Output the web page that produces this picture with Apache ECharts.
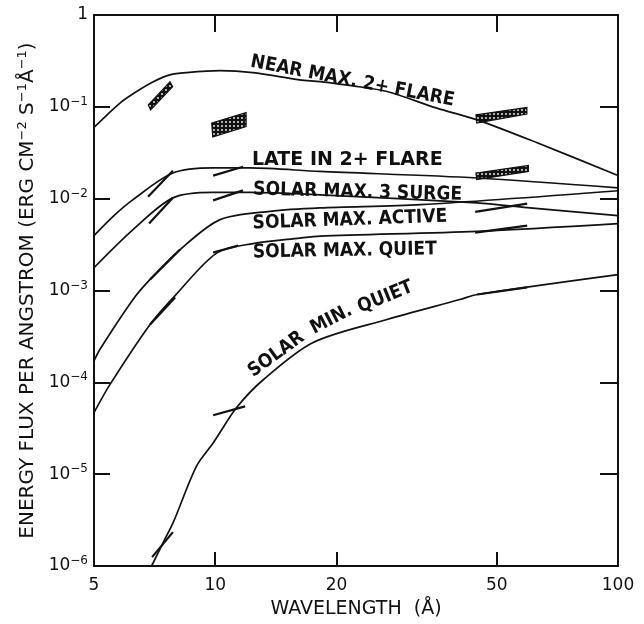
<!DOCTYPE html>
<html>
<head>
<meta charset="utf-8">
<script src="https://cdn.jsdelivr.net/npm/echarts@6/dist/echarts.min.js"></script>
<style>
  html, body { margin: 0; padding: 0; background: #fff; }
  #chart { width: 644px; height: 624px; }
</style>
</head>
<body>
<div id="chart"></div>
<script>
// wavelength ticks (Å) and flux decades
const xTickLabels = [5, 10, 20, 50, 100];
const xInnerTicks = [10, 20, 50];
const yDecades = [1e-6, 1e-5, 1e-4, 1e-3, 1e-2, 1e-1, 1];
const yInnerTicks = [1e-5, 1e-4, 1e-3, 1e-2, 1e-1];
const yExponents = ['−6', '−5', '−4', '−3', '−2', '−1', ''];

// curves: [wavelength Å, flux]
const nearMax2Flare = [[5, 0.0596], [5.8, 0.11], [6.38, 0.147], [7.02, 0.188], [7.72, 0.223], [8.49, 0.236], [10.28, 0.248], [12.4, 0.236], [16.2, 0.197], [18.2, 0.188], [22, 0.169], [26.7, 0.147], [35.5, 0.0968], [44.7, 0.0722], [63, 0.0406], [100, 0.0179]];
const lateIn2Flare = [[5, 0.00396], [5.58, 0.00642], [6.25, 0.00975], [7.85, 0.019], [9.88, 0.0216], [12.2, 0.0216], [18.2, 0.0198], [44.7, 0.0168], [100, 0.0131]];
const solarMax3Surge = [[5, 0.00177], [6.25, 0.0046], [7.85, 0.0102], [9.88, 0.0117], [12.2, 0.0117], [18.2, 0.011], [44.7, 0.00898], [59.5, 0.00798], [100, 0.00653]];
const solarMaxActive = [[5, 0.000171], [5.17, 0.000228], [6.25, 0.000798], [6.89, 0.00132], [8.18, 0.00279], [10.28, 0.00591], [13.68, 0.00728], [18.2, 0.00793], [32.3, 0.0086], [100, 0.0122]];
const solarMaxQuiet = [[5, 4.68e-5], [5.48, 9.5e-5], [6.89, 0.000427], [7.95, 0.00088], [10.1, 0.00257], [12.4, 0.00324], [16.2, 0.00372], [18.2, 0.00391], [44.7, 0.00441], [100, 0.00535]];
const solarMinQuiet = [[6.95, 1.0e-6], [7.43, 1.81e-6], [7.87, 3.0e-6], [8.99, 1.23e-5], [9.9, 2.21e-5], [11.3, 5.31e-5], [13.2, 0.000108], [17.5, 0.000272], [26.7, 0.000484], [40.5, 0.000798], [44.7, 0.000905], [100, 0.00149]];

// short measurement segments drawn beside the curves
const lateInSegments = [[[6.81, 0.0105], [7.85, 0.0201]], [[9.88, 0.0178], [11.72, 0.0223]]];
const surgeSegments = [[[6.85, 0.00535], [7.85, 0.01025]], [[9.88, 0.00958], [11.72, 0.0123]]];
const activeSegments = [[[6.89, 0.00132], [8.18, 0.00279]], [[44.2, 0.00717], [59.5, 0.00883]]];
const quietSegments = [[[6.89, 0.000427], [7.95, 0.00084]], [[9.88, 0.00259], [11.4, 0.00308]], [[44.2, 0.00427], [59.5, 0.00509]]];
const minQuietSegments = [[[6.97, 1.25e-6], [7.85, 2.34e-6]], [[9.88, 4.38e-5], [11.86, 5.48e-5]], [[44.7, 0.000905], [59.5, 0.00108]]];

// hatched boxes, 4 corners each
const hatchBoxes = [
  [[6.82, 0.105], [7.72, 0.188], [7.84, 0.166], [6.91, 0.0927]],
  [[9.8, 0.0665], [11.93, 0.0867], [11.93, 0.0611], [9.86, 0.0469]],
  [[44.4, 0.0819], [59.4, 0.0983], [59.4, 0.0833], [44.6, 0.0665]],
  [[44.4, 0.019], [59.9, 0.023], [59.9, 0.0198], [44.6, 0.0161]]
];

const ink = '#111';
const font = 'DejaVu Sans';

const pc = document.createElement('canvas');
pc.width = 4; pc.height = 4;
const pctx = pc.getContext('2d');
pctx.fillStyle = ink; pctx.fillRect(0, 0, 4, 4);
pctx.fillStyle = '#fff'; pctx.beginPath(); pctx.arc(2, 2, 0.9, 0, Math.PI * 2); pctx.fill();

const chart = echarts.init(document.getElementById('chart'));

function curve(data) {
  return {
    type: 'line', data: data, smooth: 0.3, showSymbol: false, symbol: 'none',
    clip: true, lineStyle: { color: ink, width: 1.7 }, silent: true
  };
}
function segments(list) {
  return list.map(function (seg) {
    return { type: 'line', data: seg, showSymbol: false, symbol: 'none', lineStyle: { color: ink, width: 2.2 }, silent: true };
  });
}

const series = [
  curve(nearMax2Flare), curve(lateIn2Flare), curve(solarMax3Surge),
  curve(solarMaxActive), curve(solarMaxQuiet), curve(solarMinQuiet)
].concat(segments(lateInSegments), segments(surgeSegments), segments(activeSegments),
  segments(quietSegments), segments(minQuietSegments));

series.push({
  type: 'custom',
  data: hatchBoxes.map(function (b, i) { return [b[0][0], b[0][1], i]; }),
  renderItem: function (params, api) {
    const box = hatchBoxes[api.value(2)];
    return {
      type: 'polygon',
      shape: { points: box.map(function (p) { return api.coord(p); }) },
      style: { fill: { image: pc, repeat: 'repeat' }, stroke: ink, lineWidth: 1.2 }
    };
  },
  silent: true
});

function label(text, x, y, deg, fontCss) {
  return {
    type: 'text', x: x, y: y, rotation: (deg || 0) * Math.PI / 180,
    style: { text: text, font: fontCss || 'bold 19px "DejaVu Sans Condensed"', fill: ink, textAlign: 'left', textVerticalAlign: 'bottom' }
  };
}

const option = {
  animation: false,
  grid: { left: 94, right: 26, top: 15, bottom: 57 },
  xAxis: [{
    type: 'log', logBase: 10, min: 5, max: 100, position: 'bottom',
    name: 'WAVELENGTH  (Å)', nameLocation: 'middle', nameGap: 34,
    nameTextStyle: { fontFamily: font, fontSize: 19, color: ink },
    axisLine: { lineStyle: { color: ink, width: 2 } },
    axisTick: { inside: true, length: 14, customValues: xInnerTicks, lineStyle: { color: ink, width: 2 } },
    axisLabel: { customValues: xTickLabels, margin: 11, fontFamily: font, fontSize: 17, color: ink },
    minorTick: { show: false }, splitLine: { show: false }
  }, {
    type: 'log', logBase: 10, min: 5, max: 100, position: 'top',
    axisLine: { lineStyle: { color: ink, width: 2 } },
    axisTick: { inside: true, length: 17, customValues: xInnerTicks, lineStyle: { color: ink, width: 2 } },
    axisLabel: { show: false }, splitLine: { show: false }
  }],
  yAxis: [{
    type: 'log', logBase: 10, min: 1e-6, max: 1, position: 'left',
    name: '{t|ENERGY FLUX PER ANGSTROM (ERG CM}{s|−2}{t| S}{s|−1}{t|Å}{s|−1}{t|)}',
    nameLocation: 'middle', nameGap: 43, nameRotate: 90,
    nameTextStyle: {
      color: ink,
      rich: {
        t: { fontFamily: font, fontSize: 20, color: ink },
        s: { fontFamily: font, fontSize: 13, color: ink, padding: [0, 0, 11, 0] }
      }
    },
    axisLine: { lineStyle: { color: ink, width: 2 } },
    axisTick: { inside: true, length: 16, customValues: yInnerTicks, lineStyle: { color: ink, width: 2 } },
    axisLabel: {
      customValues: yDecades, margin: 6,
      formatter: function (v) {
        const i = yDecades.findIndex(function (d) { return Math.abs(Math.log10(d) - Math.log10(v)) < 1e-6; });
        return i === yDecades.length - 1 ? '{b|1}' : '{b|10}{s|' + yExponents[i] + '}';
      },
      rich: {
        b: { fontFamily: font, fontSize: 17, color: ink },
        s: { fontFamily: font, fontSize: 12, color: ink, padding: [0, 0, 10, 0] }
      }
    },
    minorTick: { show: false }, splitLine: { show: false }
  }, {
    type: 'log', logBase: 10, min: 1e-6, max: 1, position: 'right',
    axisLine: { lineStyle: { color: ink, width: 2 } },
    axisTick: { inside: true, length: 18, customValues: yInnerTicks, lineStyle: { color: ink, width: 2 } },
    axisLabel: { show: false }, splitLine: { show: false }
  }],
  series: series,
  graphic: [
    label('NEAR MAX. 2+ FLARE', 249, 71, -10.9),
    label('LATE IN 2+ FLARE', 252, 170, 0, 'bold 19px "DejaVu Sans"'),
    label('SOLAR MAX. 3 SURGE', 253, 199, -1.5),
    label('SOLAR MAX. ACTIVE', 253, 233, 2),
    label('SOLAR MAX. QUIET', 253, 262, 1),
    label('SOLAR', 256, 381, 36),
    label('MIN.', 316, 338, 27),
    label('QUIET', 362, 317, 22)
  ]
};
chart.setOption(option);
</script>
</body>
</html>
